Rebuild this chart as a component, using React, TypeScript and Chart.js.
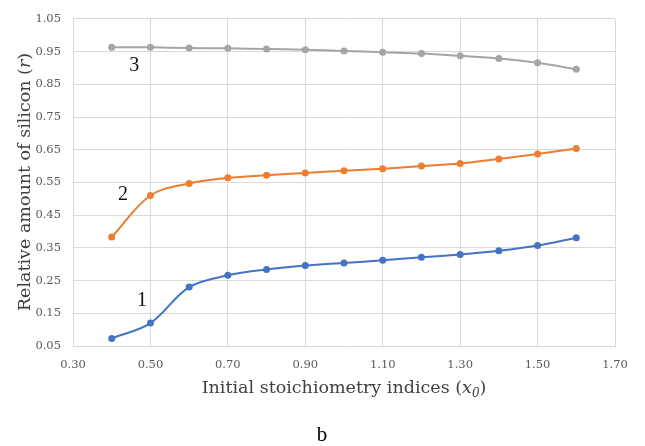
import React, { useEffect, useRef } from "react";
import { Chart, registerables } from "chart.js";

Chart.register(...registerables);

const xValues = [0.4, 0.5, 0.6, 0.7, 0.8, 0.9, 1.0, 1.1, 1.2, 1.3, 1.4, 1.5, 1.6];
const series1 = [0.073, 0.12, 0.23, 0.266, 0.284, 0.296, 0.304, 0.312, 0.321, 0.33, 0.341, 0.357, 0.381];
const series2 = [0.383, 0.51, 0.547, 0.564, 0.572, 0.579, 0.586, 0.592, 0.6, 0.608, 0.622, 0.637, 0.654];
const series3 = [0.963, 0.963, 0.961, 0.96, 0.958, 0.956, 0.952, 0.948, 0.944, 0.937, 0.929, 0.916, 0.896];

const xTicks = [0.3, 0.5, 0.7, 0.9, 1.1, 1.3, 1.5, 1.7];
const yTicks = [0.05, 0.15, 0.25, 0.35, 0.45, 0.55, 0.65, 0.75, 0.85, 0.95, 1.05];

const curveLabels = ["1", "2", "3"];
const curveLabelX = [0.478, 0.429, 0.458];
const curveLabelY = [0.189, 0.511, 0.908];

const caption = "b";

const COLORS = ["#4472C4", "#ED7D31", "#A5A5A5"];

const textPlugin = {
  id: "customText",
  afterDraw(chart: any) {
    const ctx = chart.ctx;
    const xs = chart.scales.x;
    const ys = chart.scales.y;
    ctx.save();
    // curve labels
    ctx.fillStyle = "#111";
    ctx.font = "20px 'Liberation Serif'";
    ctx.textAlign = "center";
    ctx.textBaseline = "middle";
    curveLabels.forEach((t, i) => {
      ctx.fillText(t, xs.getPixelForValue(curveLabelX[i]), ys.getPixelForValue(curveLabelY[i]));
    });

    // x title
    const fs = 17.5;
    const fam = "'DejaVu Serif'";
    const normal = `${fs}px ${fam}`;
    const italic = `italic ${fs}px ${fam}`;
    const small = `italic ${Math.round(fs * 0.68)}px ${fam}`;
    ctx.fillStyle = "#404040";
    ctx.textAlign = "left";
    ctx.textBaseline = "alphabetic";
    const segsX = [
      { t: "Initial stoichiometry indices (", f: normal, dy: 0 },
      { t: "x", f: italic, dy: 0 },
      { t: "0", f: small, dy: 4 },
      { t: ")", f: normal, dy: 0 },
    ];
    let w = 0;
    segsX.forEach((s) => { ctx.font = s.f; w += ctx.measureText(s.t).width; });
    let px = 344 - w / 2;
    segsX.forEach((s) => {
      ctx.font = s.f;
      ctx.fillText(s.t, px, 393 + s.dy);
      px += ctx.measureText(s.t).width;
    });

    // y title
    const segsY = [
      { t: "Relative amount of silicon (", f: normal },
      { t: "r", f: italic },
      { t: ")", f: normal },
    ];
    w = 0;
    segsY.forEach((s) => { ctx.font = s.f; w += ctx.measureText(s.t).width; });
    ctx.translate(30, 182);
    ctx.rotate(-Math.PI / 2);
    px = -w / 2;
    segsY.forEach((s) => {
      ctx.font = s.f;
      ctx.fillText(s.t, px, 0);
      px += ctx.measureText(s.t).width;
    });
    ctx.restore();

    // caption
    ctx.save();
    ctx.fillStyle = "#000";
    ctx.font = "21px 'Liberation Serif'";
    ctx.textAlign = "center";
    ctx.textBaseline = "alphabetic";
    ctx.fillText(caption, 322, 441);
    ctx.restore();
  },
};

export default function App() {
  const ref = useRef<HTMLCanvasElement>(null);
  useEffect(() => {
    document.body.style.margin = "0";
    const mk = (vals: number[]) => xValues.map((x, i) => ({ x, y: vals[i] }));
    const ds = [series1, series2, series3].map((vals, i) => ({
      label: String(i + 1),
      data: mk(vals),
      borderColor: COLORS[i],
      backgroundColor: COLORS[i],
      borderWidth: 2,
      pointRadius: 3.5,
      pointBorderWidth: 0,
      tension: 0.35,
    }));
    const tickFont = { family: "'DejaVu Serif'", size: 11.5 };
    const chart = new Chart(ref.current!, {
      type: "line",
      data: { datasets: ds },
      options: {
        animation: false,
        responsive: true,
        maintainAspectRatio: false,
        layout: { padding: { left: 0, right: 30, top: 16, bottom: 0 } },
        plugins: { legend: { display: false }, tooltip: { enabled: false } },
        scales: {
          x: {
            type: "linear",
            min: 0.3,
            max: 1.7,
            afterBuildTicks: (s: any) => { s.ticks = xTicks.map((v) => ({ value: v })); },
            afterFit: (s: any) => { s.height = 100; },
            ticks: { color: "#595959", font: tickFont, padding: 12, maxRotation: 0, callback: (v: any) => Number(v).toFixed(2) },
            grid: { color: "#D9D9D9", drawTicks: false, lineWidth: 1 },
            border: { color: "#D9D9D9" },
          },
          y: {
            type: "linear",
            min: 0.05,
            max: 1.05,
            afterBuildTicks: (s: any) => { s.ticks = yTicks.map((v) => ({ value: v })); },
            afterFit: (s: any) => { s.width = 73; },
            ticks: { color: "#595959", font: tickFont, padding: 12, callback: (v: any) => Number(v).toFixed(2) },
            grid: { color: "#D9D9D9", drawTicks: false, lineWidth: 1 },
            border: { color: "#D9D9D9" },
          },
        },
      },
      plugins: [textPlugin],
    });
    return () => chart.destroy();
  }, []);
  return (
    <div style={{ position: "absolute", left: 0, top: 0, width: 645, height: 446, background: "#fff" }}>
      <canvas ref={ref} />
    </div>
  );
}
